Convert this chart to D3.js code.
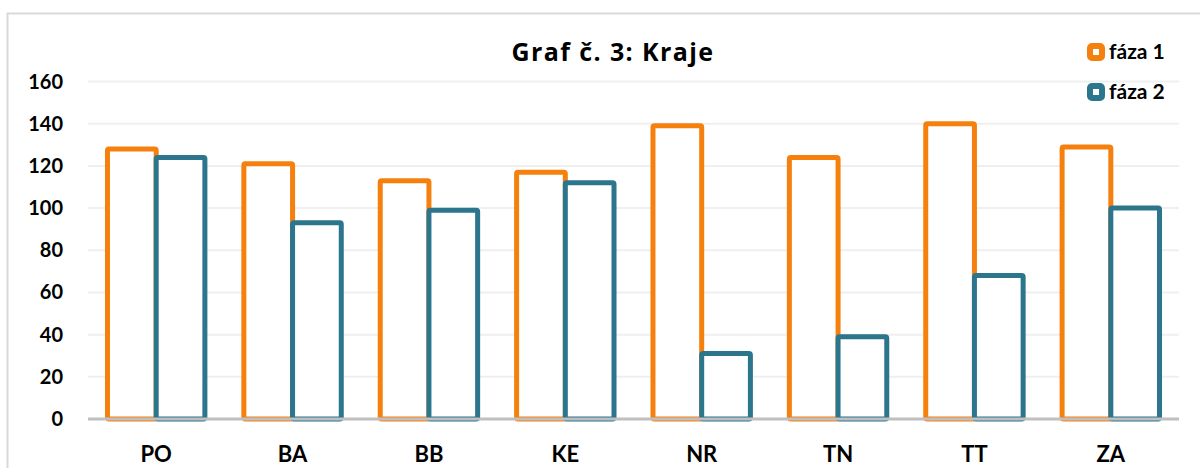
<html>
  <head>
    <script src="https://cdnjs.cloudflare.com/ajax/libs/d3/7.8.5/d3.min.js"></script>
  </head>
  <body style="margin:0;background:#fff;">
    <div id="chart"></div>
    <script>

// D A T A

      let regions = ['PO','BA','BB','KE','NR','TN','TT','ZA']
      let phase1 = [128, 121, 113, 117, 139, 124, 140, 129]
      let phase2 = [124, 93, 99, 112, 31, 39, 68, 100]
      let seriesNames = ['fáza 1', 'fáza 2']
      let yTicks = [0, 20, 40, 60, 80, 100, 120, 140, 160]

      let colors = ['#f5800e', '#2b758d']
      let font = 'Lato, "Open Sans", sans-serif'

// S C E N E

      let W = 1200, H = 468
      let svg = d3.select('#chart').append('svg')
        .attr('width', W).attr('height', H)
        .style('font-family', font)

      svg.append('rect')
        .attr('x', 7.5).attr('y', 13.5)
        .attr('width', W).attr('height', H)
        .attr('fill', 'white').attr('stroke', '#d9d9d9').attr('stroke-width', 2)

      let x = d3.scaleBand().domain(regions).range([88, 1179])
      let inner = d3.scaleBand().domain([0,1]).range([0, x.bandwidth()])
        .paddingOuter(0.4).paddingInner(0)
      let y = d3.scaleLinear().domain([0, 160]).range([419, 81.5])

// G R I D

      svg.append('g')
        .selectAll('line')
        .data(yTicks.slice(1))
        .join('line')
          .attr('x1', 88).attr('x2', 1179)
          .attr('y1', d => y(d)).attr('y2', d => y(d))
          .attr('stroke', '#efefef').attr('stroke-width', 2)

      svg.append('g')
        .selectAll('text')
        .data(yTicks)
        .join('text')
          .attr('x', 63).attr('y', d => y(d) + 7)
          .attr('text-anchor', 'end')
          .attr('font-size', 20).attr('font-weight', 'bold')
          .text(d => d)

// B A R S

      let rows = regions.map((r, i) => ({r, vals: [phase1[i], phase2[i]]}))

      let groups = svg.append('g')
        .selectAll('g')
        .data(rows)
        .join('g')
          .attr('transform', d => `translate(${x(d.r)},0)`)

      groups.selectAll('rect')
        .data(d => d.vals.map((v, k) => ({v, k})))
        .join('rect')
          .attr('x', d => inner(d.k))
          .attr('y', d => y(d.v))
          .attr('width', inner.bandwidth())
          .attr('height', d => y(0) - y(d.v))
          .attr('rx', 1.5)
          .attr('fill', 'white')
          .attr('stroke', d => colors[d.k])
          .attr('stroke-width', 5)

      // zero axis
      svg.append('line')
        .attr('x1', 88).attr('x2', 1179)
        .attr('y1', y(0)).attr('y2', y(0))
        .attr('stroke', '#bfbfbf').attr('stroke-width', 3)

      svg.append('g')
        .selectAll('text')
        .data(regions)
        .join('text')
          .attr('x', d => x(d) + x.bandwidth()/2)
          .attr('y', 462)
          .attr('text-anchor', 'middle')
          .attr('font-size', 22).attr('font-weight', 'bold')
          .text(d => d)

// T I T L E  &  L E G E N D

      svg.append('text')
        .attr('x', 613).attr('y', 61)
        .attr('text-anchor', 'middle')
        .style('font-family', '"Open Sans", sans-serif')
        .attr('font-size', 25).attr('font-weight', 'bold')
        .attr('letter-spacing', 1.4)
        .text('Graf č. 3: Kraje')

      let legend = svg.append('g')
        .selectAll('g')
        .data(seriesNames)
        .join('g')
          .attr('transform', (d, i) => `translate(1087,${43 + i*40})`)

      legend.append('rect')
        .attr('x', 3).attr('y', 3)
        .attr('width', 12).attr('height', 12).attr('rx', 2)
        .attr('fill', 'white')
        .attr('stroke', (d, i) => colors[i]).attr('stroke-width', 6)

      legend.append('text')
        .attr('x', 22).attr('y', 16)
        .attr('font-size', 21).attr('font-weight', 'bold')
        .text(d => d)

    </script>
  </body>
</html>
